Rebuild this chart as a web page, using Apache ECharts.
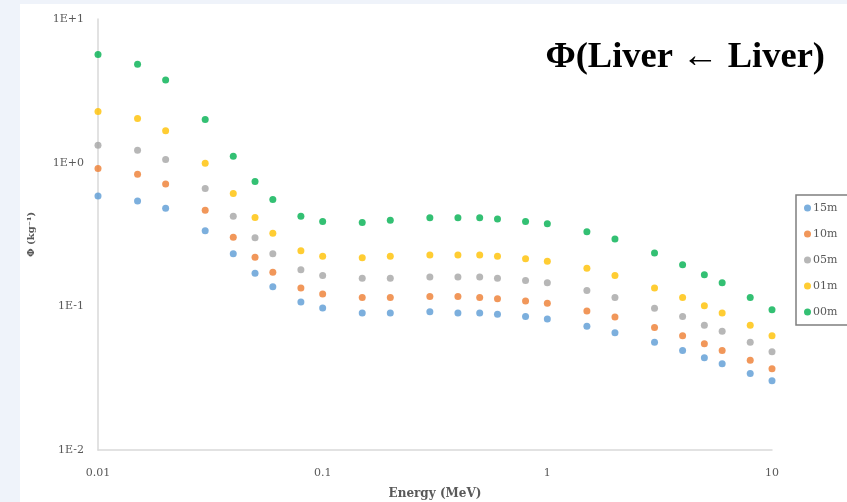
<!DOCTYPE html>
<html>
<head>
<meta charset="utf-8">
<script src="https://cdn.jsdelivr.net/npm/echarts@6/dist/echarts.min.js"></script>
<style>
  html, body { margin: 0; padding: 0; background: #eff3fa; }
  #panel { position: absolute; left: 20px; top: 4px; width: 827px; height: 498px; background: #ffffff; }
  #chart { position: absolute; left: 0; top: 0; width: 847px; height: 502px; }
</style>
</head>
<body>
<div id="panel"></div>
<div id="chart"></div>
<script>
// Energies (MeV)
const energies = [0.01, 0.015, 0.02, 0.03, 0.04, 0.05, 0.06, 0.08, 0.1, 0.15, 0.2, 0.3, 0.4, 0.5, 0.6, 0.8, 1, 1.5, 2, 3, 4, 5, 6, 8, 10];

const seriesNames = ['15m', '10m', '05m', '01m', '00m'];
const seriesColors = ['#5b9bd5', '#ed7d31', '#a5a5a5', '#ffc000', '#00b050'];

const phi15m = [0.587, 0.542, 0.482, 0.336, 0.232, 0.170, 0.137, 0.107, 0.0973, 0.090, 0.090, 0.0918, 0.090, 0.090, 0.088, 0.0848, 0.0817, 0.0726, 0.0656, 0.0562, 0.0492, 0.0438, 0.0398, 0.0341, 0.0303];
const phi10m = [0.912, 0.83, 0.711, 0.467, 0.303, 0.22, 0.173, 0.134, 0.122, 0.115, 0.115, 0.117, 0.117, 0.115, 0.113, 0.109, 0.105, 0.0927, 0.0843, 0.0711, 0.0623, 0.055, 0.0492, 0.0422, 0.0368];
const phi05m = [1.32, 1.22, 1.05, 0.66, 0.423, 0.30, 0.232, 0.180, 0.164, 0.157, 0.157, 0.160, 0.160, 0.160, 0.157, 0.151, 0.146, 0.129, 0.115, 0.0968, 0.0848, 0.0738, 0.067, 0.0562, 0.0482];
const phi01m = [2.27, 2.03, 1.67, 0.99, 0.61, 0.416, 0.322, 0.244, 0.223, 0.218, 0.223, 0.228, 0.228, 0.228, 0.223, 0.214, 0.206, 0.184, 0.164, 0.134, 0.115, 0.101, 0.0898, 0.0738, 0.0623];
const phi00m = [5.66, 4.85, 3.76, 2.0, 1.11, 0.738, 0.554, 0.423, 0.390, 0.384, 0.398, 0.413, 0.413, 0.413, 0.406, 0.390, 0.376, 0.330, 0.294, 0.235, 0.195, 0.166, 0.146, 0.115, 0.0947];

const seriesValues = [phi15m, phi10m, phi05m, phi01m, phi00m];

const xTickLabels = ['0.01', '0.1', '1', '10'];
const yTickLabels = ['1E-2', '1E-1', '1E+0', '1E+1'];

const titleText = 'Φ(Liver ← Liver)';
const xAxisName = 'Energy (MeV)';
const yAxisName = 'Φ (kg⁻¹)';

const chart = echarts.init(document.getElementById('chart'), null, { renderer: 'canvas' });

const tickFont = { color: '#595959', fontFamily: 'DejaVu Serif', fontSize: 11 };

chart.setOption({
  animation: false,
  backgroundColor: 'transparent',
  title: {
    text: titleText,
    right: 17,
    top: 34,
    textStyle: { fontFamily: 'Liberation Serif', fontWeight: 'bold', fontSize: 36.5, color: '#000000' }
  },
  grid: { left: 98, right: 75, top: 19, bottom: 52, containLabel: false, outerBoundsMode: 'none' },
  legend: {
    orient: 'vertical',
    left: 796,
    top: 195,
    padding: [6, 40, 6, 8],
    itemGap: 12,
    itemWidth: 7,
    itemHeight: 7,
    icon: 'circle',
    borderColor: '#7f7f7f',
    borderWidth: 1.5,
    textStyle: { color: '#595959', fontFamily: 'DejaVu Serif', fontSize: 11, lineHeight: 14, padding: [0, 0, 0, -3] },
    data: seriesNames
  },
  xAxis: {
    type: 'log',
    logBase: 10,
    min: 0.01,
    max: 10,
    name: xAxisName,
    nameLocation: 'middle',
    nameGap: 38,
    nameTextStyle: { color: '#595959', fontFamily: 'DejaVu Serif', fontWeight: 'bold', fontSize: 12 },
    axisLine: { show: true, lineStyle: { color: '#d9d9d9', width: 1.5 } },
    axisTick: { show: false },
    splitLine: { show: false },
    minorTick: { show: false },
    axisLabel: {
      ...tickFont,
      margin: 18,
      formatter: function (v) {
        const i = Math.round(Math.log10(v)) + 2;
        return xTickLabels[i] !== undefined ? xTickLabels[i] : '';
      }
    }
  },
  yAxis: {
    type: 'log',
    logBase: 10,
    min: 0.01,
    max: 10,
    name: yAxisName,
    nameLocation: 'middle',
    nameGap: 62,
    nameTextStyle: { color: '#595959', fontFamily: 'DejaVu Serif', fontWeight: 'bold', fontSize: 10 },
    axisLine: { show: true, lineStyle: { color: '#d9d9d9', width: 1.5 } },
    axisTick: { show: false },
    splitLine: { show: false },
    axisLabel: {
      ...tickFont,
      margin: 14,
      formatter: function (v) {
        const i = Math.round(Math.log10(v)) + 2;
        return yTickLabels[i] !== undefined ? yTickLabels[i] : '';
      }
    }
  },
  series: seriesNames.map(function (name, k) {
    return {
      name: name,
      type: 'scatter',
      symbol: 'circle',
      symbolSize: 7,
      itemStyle: { color: seriesColors[k] },
      data: energies.map(function (e, i) { return [e, seriesValues[k][i]]; })
    };
  })
});
</script>
</body>
</html>
